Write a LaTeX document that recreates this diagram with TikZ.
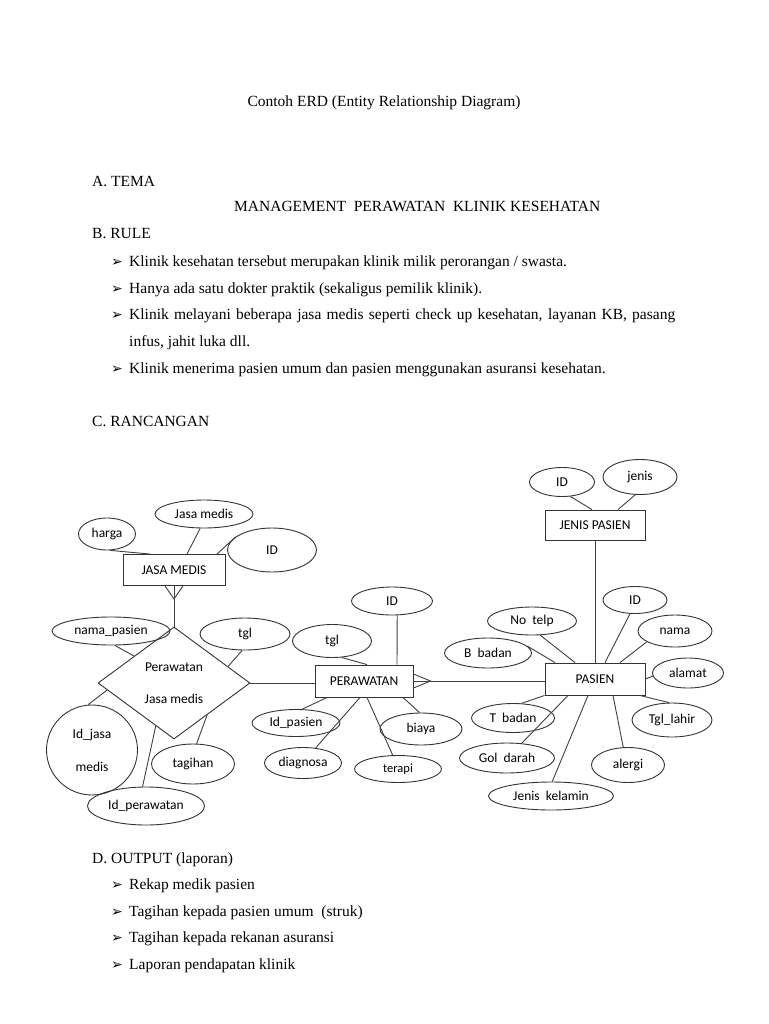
\documentclass[tikz,border=0pt]{standalone}
\usepackage{fontspec}
\setmainfont{Liberation Serif}
\newfontfamily\diafont{Carlito}
\newfontfamily\symfont{DejaVu Sans}
\usetikzlibrary{shapes.geometric, positioning}
\tikzset{
  ent/.style  = {draw=black!80, line width=0.9pt, minimum width=100pt, minimum height=31pt,
                 inner sep=0pt, font=\diafont\fontsize{13.5}{15}\selectfont},
  att/.style  = {draw=black!80, ellipse, line width=0.9pt, inner sep=0pt,
                 font=\diafont\fontsize{13.5}{15}\selectfont},
  rel/.style  = {draw=black!80, diamond, line width=0.9pt, inner sep=0pt, align=center,
                 font=\diafont\fontsize{13.5}{15}\selectfont},
  sz/.style 2 args = {minimum width=#1pt, minimum height=#2pt},
  ln/.style   = {draw=black!75, line width=0.9pt},
  txt/.style  = {anchor=base west, inner sep=0pt, font=\fontsize{15.5}{18}\selectfont},
  bul/.style  = {anchor=base east, inner sep=0pt, font=\symfont\fontsize{14}{15}\selectfont},
}

\begin{document}
\begin{tikzpicture}[x=1pt, y=-1pt]
\useasboundingbox[fill=white] (0,0) rectangle (768,1024);

% page text
\node[txt, anchor=base] (title) at (384,107) {Contoh ERD (Entity Relationship Diagram)};
\node[txt] (secA) at (92,187) {A. TEMA};
\node[txt] (tema) at (234,212) {MANAGEMENT\ \ PERAWATAN\ \ KLINIK KESEHATAN};
\node[txt] (secB) at (92,239) {B. RULE};
\node[txt] (r1) at (129,266) {Klinik kesehatan tersebut merupakan klinik milik perorangan / swasta.};
\node[txt] (r2) at (129,293) {Hanya ada satu dokter praktik (sekaligus pemilik klinik).};
\node[txt] (r3) at (129,319) {\makebox[546pt][s]{Klinik melayani beberapa jasa medis seperti check up kesehatan, layanan KB, pasang}};
\node[txt] (r3b) at (129,346) {infus, jahit luka dll.};
\node[txt] (r4) at (129,373) {Klinik menerima pasien umum dan pasien menggunakan asuransi kesehatan.};
\node[txt] (secC) at (92,426) {C. RANCANGAN};
\node[txt] (secD) at (92,863) {D. OUTPUT (laporan)};
\node[txt] (o1) at (129,889) {Rekap medik pasien};
\node[txt] (o2) at (129,916) {Tagihan kepada pasien umum\ \ (struk)};
\node[txt] (o3) at (129,942) {Tagihan kepada rekanan asuransi};
\node[txt] (o4) at (129,969) {Laporan pendapatan klinik};
\foreach \n in {r1,r2,r3,r4,o1,o2,o3,o4}
  \node[bul] (b-\n) at ([xshift=-6pt]\n.base west) {➢};

% JASA MEDIS
\node[ent, sz={102}{31}] (jm) at (174,570) {JASA MEDIS};
\node[att, sz={57}{32}] (jmHarga) at (107,534) {harga};
\node[att, sz={98}{28}] (jmNama) at (204,514) {Jasa medis};
\node[att, sz={89}{44}] (jmId) at (272,550) {ID};
\draw[ln] (jmHarga.-80) -- ([xshift=-24pt]jm.north);
\draw[ln] (jmNama.-105) -- ([xshift=13pt]jm.north);
\draw[ln] (jmId.160) -- ([xshift=43pt]jm.north);

% relasi Perawatan Jasa medis
\node[rel, sz={152}{112}] (pjm) at (174,683) {Perawatan\\[17pt]Jasa medis};
\coordinate (jmCf) at ([yshift=-13pt]jm.south);
\draw[ln] ([xshift=-9pt]jm.south) -- (jmCf) -- ([xshift=9pt]jm.south);
\draw[ln] (jm.south) -- (pjm.north);
\node[att, sz={118}{28}] (jNama) at (111,631) {nama\_pasien};
\node[att, sz={90}{32}] (jTgl) at (245,634) {tgl};
\node[att, sz={91}{90}, align=center] (jIdjasa) at (92,750) {Id\_jasa\\[18pt]medis};
\node[att, sz={117}{38}] (jIdper) at (146,806) {Id\_perawatan};
\node[att, sz={83}{40}] (jTagihan) at (193,764) {tagihan};
\draw[ln] (jNama.-75) -- (pjm.146);
\draw[ln] (jTgl.-100) -- (pjm.17);
\draw[ln] (jIdjasa.95) -- (pjm.186);
\draw[ln] (jIdper.100) -- (pjm.247);
\draw[ln] (jTagihan.80) -- (pjm.316);

% PERAWATAN
\node[ent, sz={98}{32}] (per) at (364,681) {PERAWATAN};
\draw[ln] (pjm.east) -- (pjm.east -| per.west);
\node[att, sz={81}{28}] (pId) at (392,601) {ID};
\node[att, sz={79}{33}] (pTgl) at (332,641) {tgl};
\node[att, sz={88}{27}] (pIdpas) at (296,723) {Id\_pasien};
\node[att, sz={77}{31}] (pDiag) at (303,763) {diagnosa};
\node[att, sz={87}{27}, font=\diafont\fontsize{12.5}{13}\selectfont] (pTerapi) at (398,769) {\raisebox{-5pt}{terapi}};
\node[att, sz={82}{32}] (pBiaya) at (421,729) {biaya};
\draw[ln] (pId.-70) -- ([xshift=33pt]per.north);
\draw[ln] (pTgl.-60) -- ([xshift=3pt]per.north);
\draw[ln] ([xshift=-37pt]per.south) -- (pIdpas.66);
\draw[ln] ([xshift=-4pt]per.south) -- (pDiag.50);
\draw[ln] ([xshift=3pt]per.south) -- (pTerapi.111);
\draw[ln] ([xshift=39pt]per.south) -- (pBiaya.95);

% JENIS PASIEN
\node[ent, sz={100}{30}] (jp) at (595,525) {JENIS PASIEN};
\node[att, sz={65}{29}] (jpId) at (562,482) {ID};
\node[att, sz={74}{35}] (jpJenis) at (640,477) {\raisebox{3pt}{jenis}};
\draw[ln] (jpId.-60) -- ([xshift=-3pt]jp.north);
\draw[ln] (jpJenis.-105) -- ([xshift=23pt]jp.north);

% PASIEN
\node[ent, sz={100}{32}] (pas) at (595,679) {PASIEN};
\coordinate (perCf) at ([xshift=17pt]per.east);
\draw[ln] ([yshift=7pt]per.east) -- (perCf) -- ([yshift=-7pt]per.east);
\draw[ln] (per.east) -- (per.east -| pas.west);
\draw[ln] (jp.south) -- (pas.north);
\node[att, sz={64}{27}] (sId) at (635,600) {ID};
\node[att, sz={74}{32}] (sNama) at (675,631) {nama};
\node[att, sz={71}{30}] (sAlamat) at (688,673) {alamat};
\node[att, sz={80}{34}] (sTgl) at (672,720) {Tgl\_lahir};
\node[att, sz={73}{35}] (sAlergi) at (628,765) {alergi};
\node[att, sz={125}{28}] (sJk) at (551,796) {Jenis\ \ kelamin};
\node[att, sz={95}{30}] (sGol) at (507,758) {Gol\ \ darah};
\node[att, sz={83}{29}] (sTb) at (513,718) {T\ \ badan};
\node[att, sz={87}{30}] (sBb) at (488,653) {B\ \ badan};
\node[att, sz={89}{28}] (sNo) at (532,621) {No\ \ telp};
\draw[ln] (sId.-110) -- ([xshift=10pt]pas.north);
\draw[ln] (sNama.201) -- ([xshift=25pt]pas.north);
\draw[ln] (sAlamat.185) -- (pas.east);
\draw[ln] ([xshift=45pt]pas.south) -- (sTgl.100);
\draw[ln] ([xshift=18pt]pas.south) -- (sAlergi.105);
\draw[ln] ([xshift=-7pt]pas.south) -- (sJk.85);
\draw[ln] ([xshift=-27pt]pas.south) -- (sGol.45);
\draw[ln] (pas.south west) -- (sTb.60);
\draw[ln] (sBb.10) -- ([xshift=-40pt]pas.north);
\draw[ln] (sNo.-60) -- ([xshift=-20pt]pas.north);
\end{tikzpicture}
\end{document}
